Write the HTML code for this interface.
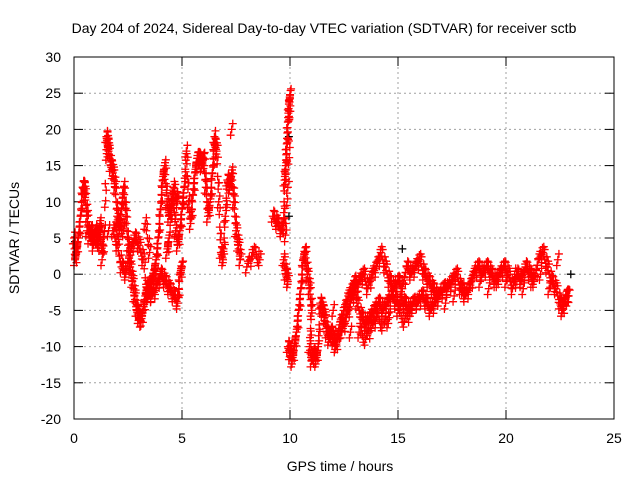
<!DOCTYPE html>
<html><head><meta charset="utf-8"><style>
body{margin:0;background:#fff}
svg{display:block;font-family:"Liberation Sans",sans-serif}
</style></head><body>
<svg id="chart" width="640" height="480">
<text x="324" y="33" font-size="14" text-anchor="middle">Day 204 of 2024, Sidereal Day-to-day VTEC variation (SDTVAR) for receiver sctb</text>
<text x="340" y="471" font-size="14" text-anchor="middle">GPS time / hours</text>
<text transform="translate(19,238) rotate(-90)" font-size="14" text-anchor="middle">SDTVAR / TECUs</text>
<g id="grid"></g>
<g id="marks"></g>
<rect x="74" y="57" width="540" height="362" fill="none" stroke="#000"/>
</svg>
<script>
const xTicks=[0,5,10,15,20,25];
const yTicks=[-20,-15,-10,-5,0,5,10,15,20,25,30];
const branchA=[[0,5],[0.05,2],[0.1,3],[0.2,5],[0.3,8],[0.4,12],[0.45,12],[0.5,11],[0.6,8],[0.7,5],[0.8,6],[0.9,4],[1.0,6],[1.1,5],[1.2,7],[1.3,2],[1.4,6],[1.5,19],[1.55,18],[1.6,17],[1.7,15],[1.8,14],[1.9,12],[2.0,8],[2.1,6],[2.2,9],[2.3,12],[2.4,8],[2.5,4],[2.6,1],[2.7,-1],[2.8,-3],[2.9,-5],[3.0,-6],[3.1,-6.5],[3.2,-5],[3.3,-3],[3.4,-2],[3.5,-2],[3.6,-1],[3.7,0],[3.8,2],[3.9,5],[4.0,9],[4.1,13],[4.2,15],[4.3,10],[4.4,8],[4.5,9],[4.6,11],[4.7,6],[4.8,4],[4.9,6],[5.0,9],[5.1,12],[5.2,17],[5.3,10],[5.4,7],[5.5,11],[5.6,14],[5.7,16],[5.8,16],[5.9,15],[6.0,16],[6.1,12],[6.2,8],[6.3,10],[6.4,14],[6.5,18],[6.6,17],[6.7,10],[6.8,3],[6.9,2],[7.0,8],[7.1,13],[7.2,12],[7.3,14],[7.4,10],[7.5,6],[7.6,4],[7.7,2]];
const branchB=[[1.8,6],[2.0,4],[2.2,1],[2.4,0],[2.6,3],[2.8,5],[3.0,4],[3.2,2],[3.4,-3],[3.6,-3],[3.8,-2],[4.0,0],[4.2,-1],[4.4,-2],[4.6,-3],[4.8,-4],[4.9,0],[5.0,1]];
const branchC=[[0.6,6],[0.9,5],[1.2,4],[1.6,6],[2.0,7],[2.3,6],[3.3,7],[3.5,3],[4.3,3],[4.4,5],[4.6,12],[4.8,10],[7.3,20],[6.5,19],[8.0,1],[8.3,3],[8.6,2]];
const branchD=[[9.2,8],[9.4,7],[9.6,6],[9.7,7],[9.75,13],[9.8,15],[9.85,18],[9.9,21],[9.95,23.5],[10.0,24.8],[9.9,12],[9.7,2],[9.8,0],[9.9,-1]];
const branchE=[[9.9,-10],[10.0,-11],[10.1,-12],[10.2,-10],[10.3,-8],[10.4,-5],[10.5,-2],[10.6,2],[10.7,3],[10.8,0],[10.9,-2],[11.0,-5],[10.9,-10],[11.0,-12],[11.1,-11],[11.2,-12],[11.3,-10],[11.4,-4],[11.5,-5],[11.6,-6],[11.7,-8],[11.8,-9],[11.9,-8],[12.0,-9],[12.1,-10],[12.2,-9],[12.3,-7],[12.5,-5],[12.7,-3],[12.9,-2],[13.0,-1],[13.1,-4],[13.3,-6],[13.5,-7],[13.7,-6],[13.9,-5],[14.1,-4],[14.3,-5],[14.5,-4],[14.7,-3],[14.9,-4],[15.1,-4],[15.3,-4],[15.5,-5],[15.7,-4],[15.9,-4],[16.1,-3],[16.3,-4],[16.5,-5],[16.7,-4],[16.9,-3],[17.1,-2],[17.3,-2],[17.5,-1],[17.7,0],[17.9,-2],[18.1,-3],[18.3,-2],[18.5,0],[18.7,1],[18.9,0],[19.1,1],[19.3,0],[19.5,-1],[19.7,0],[19.9,1],[20.1,0],[20.3,-2],[20.5,0],[20.7,-1],[20.9,1],[21.1,0],[21.3,-1],[21.5,2],[21.7,3],[21.9,1],[22.1,-1],[22.3,-2],[22.5,-4],[22.6,-5],[22.7,-4],[22.8,-3],[22.9,-3]];
const branchF=[[12.4,-8],[12.6,-6],[12.8,-4],[13.0,-2],[13.2,-1],[13.4,0],[13.6,-2],[13.8,0],[14.0,1],[14.2,3],[14.4,1],[14.6,-1],[14.8,-2],[15.0,-1],[15.2,-2],[15.4,1],[15.6,0],[15.8,1],[16.0,2],[16.2,0],[16.4,-1],[16.6,-2],[16.8,-3],[17.2,-4],[17.6,-3],[18.0,-2],[18.4,-1],[18.8,-1],[19.2,-2],[19.6,-1],[20.0,-1],[20.4,0],[20.8,-2],[21.2,-1],[21.6,0],[22.0,-2],[22.4,2]];
const branchG=[[12.0,-5],[12.4,-7],[12.8,-8],[13.2,-8],[13.5,-9],[13.8,-7],[14.0,-6],[14.3,-7],[14.6,-6],[15.0,-5],[15.3,-6.5],[15.6,-5]];
const blackPts=[[0.05,4.5],[9.95,19],[9.95,8],[23.0,0],[15.2,3.5],[3.1,3]];
const X=t=>74+t*21.6, Y=v=>419-(v+20)*7.24;
const NS='http://www.w3.org/2000/svg';
const grid=document.getElementById('grid'), marks=document.getElementById('marks'), svg=document.getElementById('chart');
function mk(tag,attrs,parent){const e=document.createElementNS(NS,tag);for(const k in attrs)e.setAttribute(k,attrs[k]);parent.appendChild(e);return e;}
xTicks.forEach(t=>{
 if(t>0&&t<25){const g=mk('line',{x1:X(t),x2:X(t),y1:57,y2:419,stroke:'#a0a0a0','stroke-dasharray':'2,3'},grid);
 
 }
 mk('line',{x1:X(t),x2:X(t),y1:419,y2:410,stroke:'#000'},grid);
 mk('line',{x1:X(t),x2:X(t),y1:57,y2:66,stroke:'#000'},grid);
 const l=mk('text',{x:X(t),y:443,'font-size':14,'text-anchor':'middle'},svg);l.textContent=t;
 
 
});
yTicks.forEach(v=>{
 if(v>-20&&v<30){const g=mk('line',{x1:74,x2:614,y1:Y(v),y2:Y(v),stroke:'#a0a0a0','stroke-dasharray':'2,3'},grid);
 
 }
 mk('line',{x1:74,x2:83,y1:Y(v),y2:Y(v),stroke:'#000'},grid);
 mk('line',{x1:605,x2:614,y1:Y(v),y2:Y(v),stroke:'#000'},grid);
 const l=mk('text',{x:61,y:Y(v)+5,'font-size':14,'text-anchor':'end'},svg);l.textContent=v;
 
 
});
function plus(t,v,c){const p=mk('path',{d:`M${X(t)-4},${Y(v)}h8M${X(t)},${Y(v)-4}v8`,stroke:c,'stroke-width':1.3,fill:'none'},marks);
 
 }
blackPts.forEach(p=>plus(p[0],p[1],'#000'));
[branchA,branchB,branchC,branchD,branchE,branchF,branchG].forEach(b=>{
 b.forEach((p,i)=>{plus(p[0],p[1],'#f00');plus(p[0]+0.05,p[1]+0.8,'#f00');plus(p[0]-0.05,p[1]-0.8,'#f00');
  if(i>0){const q=b[i-1];if(Math.abs(p[0]-q[0])<0.35){for(let k=1;k<4;k++){const f=k/4;const tt=q[0]+(p[0]-q[0])*f,vv=q[1]+(p[1]-q[1])*f;plus(tt,vv,'#f00');plus(tt+0.04,vv+(k%2?0.9:-0.9),'#f00');}}}
 });
});
</script>
</body></html>
